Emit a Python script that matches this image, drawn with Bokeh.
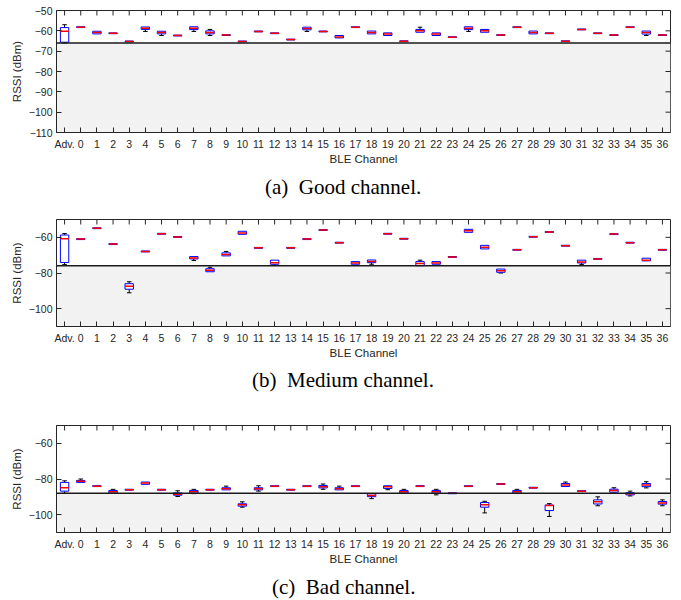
import math
from bokeh.plotting import figure
from bokeh.models import (ColumnDataSource, FactorRange, Range1d, FixedTicker,
                          BoxAnnotation, Span, Div)
from bokeh.layouts import column
from bokeh.transform import dodge
from bokeh.embed import file_html
from bokeh.resources import INLINE

channels = ["Adv."] + [str(i) for i in range(37)]

# ---- (a) Good channel ----
a_med = [-60.2, -58.2, -60.8, -61.2, -65.2, -58.7, -60.8, -62.3, -58.7, -60.8, -62.1, -65.2, -60.3,
         -61.2, -64.3, -58.9, -60.3, -63.0, -58.2, -60.8, -61.6, -65.1, -60.0, -61.6, -63.1, -58.7,
         -60.0, -62.1, -58.2, -60.8, -61.2, -65.1, -59.3, -61.2, -62.1, -58.2, -60.8, -62.1]
a_q1 = [-65.6, -58.4, -61.5, -61.4, -65.4, -59.3, -61.5, -62.5, -59.4, -61.5, -62.3, -65.4, -60.5,
        -61.4, -64.5, -59.5, -60.5, -63.5, -58.4, -61.5, -62.3, -65.3, -60.7, -62.3, -63.3, -59.4,
        -60.7, -62.3, -58.4, -61.5, -61.4, -65.3, -59.5, -61.4, -62.3, -58.4, -61.6, -62.3]
a_q3 = [-58.4, -58.0, -60.2, -61.0, -65.0, -58.1, -60.2, -62.1, -58.0, -60.0, -61.9, -65.0, -60.1,
        -61.0, -64.1, -58.2, -60.1, -62.3, -58.0, -60.1, -61.0, -64.9, -59.3, -61.0, -62.9, -58.0,
        -59.3, -61.9, -58.0, -60.1, -61.0, -64.9, -59.1, -61.0, -61.9, -58.0, -60.1, -61.9]
a_lo = [-66.0, -58.4, -61.5, -61.4, -65.4, -60.3, -62.3, -62.5, -60.3, -62.3, -62.3, -65.4, -60.5,
        -61.4, -64.5, -60.3, -60.5, -63.5, -58.4, -61.5, -62.3, -65.3, -60.7, -62.3, -63.3, -60.3,
        -60.7, -62.3, -58.4, -61.5, -61.4, -65.3, -59.5, -61.4, -62.3, -58.4, -62.3, -62.3]
a_hi = [-57.0, -58.0, -60.2, -61.0, -65.0, -58.1, -60.2, -62.1, -58.0, -59.3, -61.9, -65.0, -60.1,
        -61.0, -64.1, -58.2, -60.1, -62.3, -58.0, -60.1, -61.0, -64.9, -58.2, -61.0, -62.9, -58.0,
        -59.3, -61.9, -58.0, -60.1, -61.0, -64.9, -59.1, -61.0, -61.9, -58.0, -60.1, -61.9]

# ---- (b) Medium channel ----
b_med = [-60.8, -61.0, -54.9, -63.8, -87.4, -67.9, -58.0, -59.8, -71.6, -78.5, -69.6, -57.5, -65.9,
         -74.2, -65.9, -61.0, -55.9, -63.0, -74.4, -73.5, -58.0, -60.8, -74.7, -74.4, -71.0, -56.3,
         -65.5, -78.7, -67.0, -59.7, -57.0, -64.7, -73.9, -72.1, -58.2, -63.0, -72.8, -67.0]
b_q1 = [-74.1, -61.25, -55.15, -64.05, -89.1, -68.15, -58.25, -60.05, -72.1, -79.3, -70.4, -58.3, -66.15,
        -75.1, -66.15, -61.25, -56.15, -63.25, -75.1, -74.2, -58.25, -61.05, -75.9, -75.1, -71.25, -57.2,
        -66.5, -79.6, -67.25, -59.95, -57.25, -64.95, -74.4, -72.35, -58.45, -63.25, -73.2, -67.25]
b_q3 = [-58.7, -60.75, -54.65, -63.55, -86.0, -67.65, -57.75, -59.55, -70.8, -77.6, -68.7, -56.6, -65.65,
        -72.8, -65.65, -60.75, -55.65, -62.75, -73.6, -72.7, -57.75, -60.55, -73.6, -73.6, -70.75, -55.5,
        -64.5, -77.8, -66.75, -59.45, -56.75, -64.45, -72.8, -71.85, -57.95, -62.75, -71.7, -66.75]
b_lo = [-75.3, -61.25, -55.15, -64.05, -91.1, -68.15, -58.25, -60.05, -73.0, -79.3, -70.4, -58.3, -66.15,
        -75.5, -66.15, -61.25, -56.15, -63.25, -75.1, -75.1, -58.25, -61.05, -75.9, -75.1, -71.25, -57.2,
        -66.5, -80.0, -67.25, -59.95, -57.25, -64.95, -75.3, -72.35, -58.45, -63.25, -73.2, -67.25]
b_hi = [-57.9, -60.75, -54.65, -63.55, -84.9, -67.65, -57.75, -59.55, -70.8, -76.8, -67.9, -56.6, -65.65,
        -72.8, -65.65, -60.75, -55.65, -62.75, -73.6, -72.7, -57.75, -60.55, -72.8, -73.6, -70.75, -55.5,
        -64.5, -77.8, -66.75, -59.45, -56.75, -64.45, -72.8, -71.85, -57.95, -62.75, -71.7, -66.75]

# ---- (c) Bad channel ----
c_med = [-84.9, -81.3, -84.0, -87.2, -86.0, -82.3, -86.0, -88.5, -87.2, -86.0, -85.5, -94.5, -85.5,
         -84.0, -86.0, -84.0, -84.3, -85.5, -84.0, -89.2, -84.3, -87.2, -84.0, -87.2, -88.0, -84.0,
         -94.5, -82.8, -87.2, -84.9, -94.8, -83.4, -86.8, -92.8, -86.4, -88.3, -83.4, -93.4]
c_q1 = [-86.8, -81.9, -84.25, -87.9, -86.25, -83.0, -86.25, -89.1, -87.9, -86.25, -86.1, -95.2, -86.1,
        -84.25, -86.25, -84.25, -85.0, -86.1, -84.25, -89.9, -85.3, -87.9, -84.25, -87.9, -88.25, -84.25,
        -95.8, -83.05, -87.9, -85.15, -97.7, -84.2, -87.05, -94.0, -87.4, -88.9, -84.3, -94.1]
c_q3 = [-81.9, -80.8, -83.75, -86.4, -85.75, -81.7, -85.75, -87.8, -86.4, -85.75, -84.9, -93.9, -84.9,
        -83.75, -85.75, -83.75, -83.6, -84.9, -83.75, -88.3, -83.8, -86.4, -83.75, -86.4, -87.75, -83.75,
        -93.2, -82.55, -86.4, -84.65, -94.6, -82.5, -86.55, -91.7, -85.7, -87.7, -82.5, -92.6]
c_lo = [-88.0, -81.9, -84.25, -87.9, -86.25, -83.0, -86.25, -89.8, -88.2, -86.25, -86.1, -95.8, -86.8,
        -84.25, -86.25, -84.25, -85.8, -86.1, -84.25, -91.0, -86.0, -87.9, -84.25, -88.9, -88.25, -84.25,
        -99.0, -83.05, -87.9, -85.15, -101.0, -84.2, -87.05, -95.0, -88.0, -89.5, -85.0, -95.0]
c_hi = [-81.0, -80.0, -83.75, -85.8, -85.75, -81.7, -85.75, -86.6, -85.8, -85.75, -84.0, -92.8, -83.8,
        -83.75, -85.75, -83.75, -82.8, -84.0, -83.75, -88.3, -83.8, -85.8, -83.75, -85.8, -87.75, -83.75,
        -92.5, -82.55, -85.8, -84.65, -93.8, -81.7, -86.55, -90.0, -84.9, -86.8, -81.5, -91.7]

thresholds = [-66, -76, -88]
y_min, y_max = -110, -50
yticks_a = [-110, -100, -90, -80, -70, -60, -50]
yticks_bc = [-100, -80, -60]
captions = ["(a)&ensp;Good channel.", "(b)&ensp;Medium channel.", "(c)&ensp;Bad channel."]

FONT = "Liberation Sans"
TXT = "#262626"


def style_axis(ax):
    ax.major_tick_in = 5
    ax.major_tick_out = 0
    ax.minor_tick_in = 0
    ax.minor_tick_out = 0
    ax.axis_line_color = TXT
    ax.major_tick_line_color = TXT
    ax.major_label_text_font = FONT
    ax.major_label_text_color = TXT
    ax.major_label_text_font_size = "10.5px"
    ax.axis_label_text_font = FONT
    ax.axis_label_text_font_style = "normal"
    ax.axis_label_text_color = TXT
    ax.axis_label_text_font_size = "11.5px"


def panel(med, q1, q3, lo, hi, thr, yticks, top_border, frame_h):
    height = top_border + frame_h + 36
    p = figure(x_range=FactorRange(*channels), y_range=Range1d(y_min, y_max),
               width=673, height=height, output_backend="svg", toolbar_location=None,
               min_border_left=56, min_border_right=3, min_border_top=top_border,
               min_border_bottom=36, background_fill_color="white")
    p.grid.visible = False
    p.outline_line_color = TXT

    p.add_layout(BoxAnnotation(top=thr, fill_color="#f2f2f2", fill_alpha=1.0,
                               line_alpha=0, level="underlay"))
    p.add_layout(Span(location=thr, dimension="width", line_color="#1a1a1a", line_width=1.5))

    xa = p.xaxis[0]
    style_axis(xa)
    xa.axis_label = "BLE Channel"
    xa.major_label_standoff = 5
    xa.axis_label_standoff = 0

    ya = p.yaxis[0]
    ya.ticker = FixedTicker(ticks=yticks)
    style_axis(ya)
    ya.axis_label = "RSSI (dBm)"
    ya.major_label_standoff = 4
    ya.axis_label_standoff = 3

    # inward ticks on the top and right edges of the box (clipped to the frame)
    p.scatter(x=channels, y=[y_max] * len(channels), marker="dash", angle=math.pi / 2,
              size=10, line_color=TXT, line_width=1)
    p.scatter(x=dodge("x", 0.5, range=p.x_range), y="y", marker="dash", size=10,
              line_color=TXT, line_width=1,
              source=ColumnDataSource(dict(x=[channels[-1]] * len(yticks), y=yticks)))

    src = ColumnDataSource(dict(x=channels, med=med, q1=q1, q3=q3))

    wx, wy0, wy1 = [], [], []
    for c, a, b, l, h in zip(channels, q1, q3, lo, hi):
        if h > b + 1e-9:
            wx.append(c); wy0.append(b); wy1.append(h)
        if l < a - 1e-9:
            wx.append(c); wy0.append(a); wy1.append(l)
    wsrc = ColumnDataSource(dict(x=wx, y0=wy0, y1=wy1))
    p.segment(x0="x", y0="y0", x1="x", y1="y1", source=wsrc, line_color="black", line_width=1)
    p.segment(x0=dodge("x", -0.14, range=p.x_range), y0="y1",
              x1=dodge("x", 0.14, range=p.x_range), y1="y1",
              source=wsrc, line_color="black", line_width=1)

    p.vbar(x="x", top="q3", bottom="q1", width=0.52, source=src,
           fill_color="white", line_color="#0000ff", line_width=1)
    p.segment(x0=dodge("x", -0.26, range=p.x_range), y0="med",
              x1=dodge("x", 0.26, range=p.x_range), y1="med",
              source=src, line_color="#ff0000", line_width=1.5)
    return p


def caption(text, h, offset, left, lh=24):
    return Div(text='<div style="position:relative; top:%dpx; left:%dpx; line-height:%dpx; '
                    'text-align:left; font-family:\'Liberation Serif\'; '
                    'font-size:21px; color:black; white-space:nowrap;">%s</div>'
                    % (offset, left, lh, text),
               width=673, height=h, margin=0)


pa = panel(a_med, a_q1, a_q3, a_lo, a_hi, thresholds[0], yticks_a, 10, 122)
pb = panel(b_med, b_q1, b_q3, b_lo, b_hi, thresholds[1], yticks_bc, 12, 107)
pc = panel(c_med, c_q1, c_q3, c_lo, c_hi, thresholds[2], yticks_bc, 27, 107)

da = caption(captions[0], 39, 7, 265)
db = caption(captions[1], 36, 6, 252)
dc = caption(captions[2], 32, 7, 272)

layout = column(pa, da, pb, db, pc, dc, spacing=0)

open("out.html", "w").write(file_html(layout, INLINE))
